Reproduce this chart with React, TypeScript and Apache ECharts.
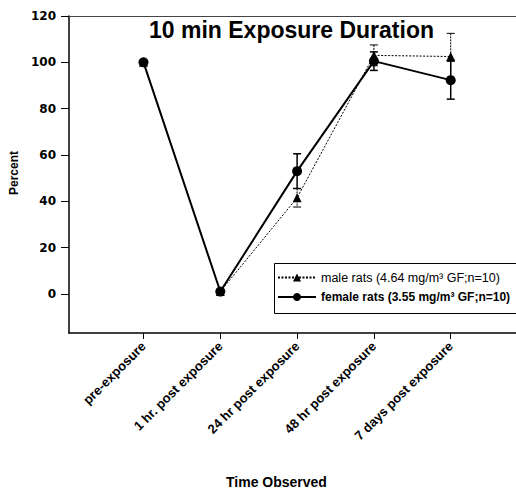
import React, { useEffect, useRef } from "react";
import * as echarts from "echarts";

const categories = [
  "pre-exposure",
  "1 hr. post exposure",
  "24 hr post exposure",
  "48 hr post exposure",
  "7 days post exposure",
];
const maleValues = [100, 1, 41.5, 103, 102.5];
const maleErrors = [0, 0, 4, 4.5, 10];
const femaleValues = [100, 1, 53, 100.5, 92.3];
const femaleErrors = [0, 0, 7.5, 4, 8.2];
const yTicks = [0, 20, 40, 60, 80, 100, 120];
const maleName = "male rats (4.64 mg/m³ GF;n=10)";
const femaleName = "female rats (3.55 mg/m³ GF;n=10)";

const FONT = "Arial, 'Liberation Sans', sans-serif";
const XMIN = -0.97;
const XMAX = 4.85;

function errorSeries(values: number[], errors: number[], width: number, dashed: boolean) {
  const data = values
    .map((v, i) => [i, v - errors[i], v + errors[i], errors[i]])
    .filter((d) => d[3] > 0);
  return {
    type: "custom",
    silent: true,
    z: 1,
    renderItem: (params: any, api: any) => {
      const x = api.value(0);
      const top = api.coord([x, api.value(2)]);
      const bot = api.coord([x, api.value(1)]);
      const cap = 4;
      const style = { stroke: "#000", lineWidth: width, lineDash: dashed ? [2, 1] : null };
      return {
        type: "group",
        children: [
          { type: "line", shape: { x1: top[0], y1: top[1], x2: bot[0], y2: bot[1] }, style },
          { type: "line", shape: { x1: top[0] - cap, y1: top[1], x2: top[0] + cap, y2: top[1] }, style: { stroke: "#000", lineWidth: width } },
          { type: "line", shape: { x1: bot[0] - cap, y1: bot[1], x2: bot[0] + cap, y2: bot[1] }, style: { stroke: "#000", lineWidth: width } },
        ],
      };
    },
    data,
  };
}

export default function App() {
  const ref = useRef<HTMLDivElement>(null);
  useEffect(() => {
    document.body.style.margin = "0";
    const chart = echarts.init(ref.current!, null, { renderer: "svg" });
    const idx = categories.map((_, i) => i);
    chart.setOption({
      animation: false,
      backgroundColor: "#fff",
      grid: { left: 69, right: 0, top: 16, bottom: 158 },
      xAxis: [
        {
          type: "value",
          min: XMIN,
          max: XMAX,
          splitLine: { show: false },
          axisLine: { onZero: false, lineStyle: { color: "#000", width: 1.5 } },
          axisTick: { customValues: idx, length: 6, lineStyle: { color: "#000" } },
          axisLabel: {
            customValues: idx,
            formatter: (v: number) => categories[Math.round(v)] ?? "",
            rotate: 45,
            margin: 11,
            color: "#000",
            fontWeight: "bold",
            fontSize: 13,
            fontFamily: FONT,
          },
        },
        {
          type: "value",
          position: "top",
          min: XMIN,
          max: XMAX,
          splitLine: { show: false },
          axisLine: { show: true, onZero: false, lineStyle: { color: "#444", width: 1 } },
          axisTick: { show: false },
          axisLabel: { show: false },
        },
      ],
      yAxis: {
        type: "value",
        min: -16.9,
        max: 120,
        splitLine: { show: false },
        axisLine: { show: true, onZero: false, lineStyle: { color: "#000", width: 1.5 } },
        axisTick: { show: true, customValues: yTicks, length: 8, lineStyle: { color: "#000" } },
        axisLabel: {
          customValues: yTicks,
          margin: 13,
          color: "#000",
          fontWeight: "bold",
          fontSize: 12,
          fontFamily: "'DejaVu Sans', sans-serif",
        },
      },
      legend: {
        left: 272,
        top: 261,
        orient: "vertical",
        padding: [10, 5, 8, 5],
        itemWidth: 38,
        itemHeight: 10,
        itemGap: 7,
        textStyle: { color: "#000", fontSize: 12.5, fontFamily: FONT },
        data: [
          { name: maleName },
          { name: femaleName, textStyle: { fontWeight: "bold", fontSize: 12 } },
        ],
      },
      graphic: [
        {
          type: "rect",
          left: 272,
          top: 261,
          z: 0,
          shape: { width: 270, height: 50 },
          style: { fill: "none", stroke: "#000", lineWidth: 1 },
        },
        {
          type: "text",
          left: 149,
          top: 18,
          style: { text: "10 min Exposure Duration", font: `bold 23px ${FONT}`, fill: "#000" },
        },
        {
          type: "text",
          left: 226,
          top: 475,
          style: { text: "Time Observed", font: `bold 14px ${FONT}`, fill: "#000" },
        },
        {
          type: "text",
          x: 8,
          y: 195,
          rotation: Math.PI / 2,
          style: { text: "Percent", font: `bold 12px ${FONT}`, fill: "#000" },
        },
      ],
      series: [
        errorSeries(maleValues, maleErrors, 1, true),
        errorSeries(femaleValues, femaleErrors, 1.5, false),
        {
          name: maleName,
          type: "line",
          z: 3,
          data: maleValues.map((v, i) => [i, v]),
          symbol: "triangle",
          symbolSize: 9,
          itemStyle: { color: "#000" },
          lineStyle: { color: "#000", width: 1, type: [2, 1.5] },
        },
        {
          name: femaleName,
          type: "line",
          z: 4,
          data: femaleValues.map((v, i) => [i, v]),
          symbol: "circle",
          symbolSize: 10,
          itemStyle: { color: "#000" },
          lineStyle: { color: "#000", width: 2 },
        },
      ],
    });
    return () => chart.dispose();
  }, []);
  return <div ref={ref} style={{ position: "absolute", left: 0, top: 0, width: 516, height: 491 }} />;
}
